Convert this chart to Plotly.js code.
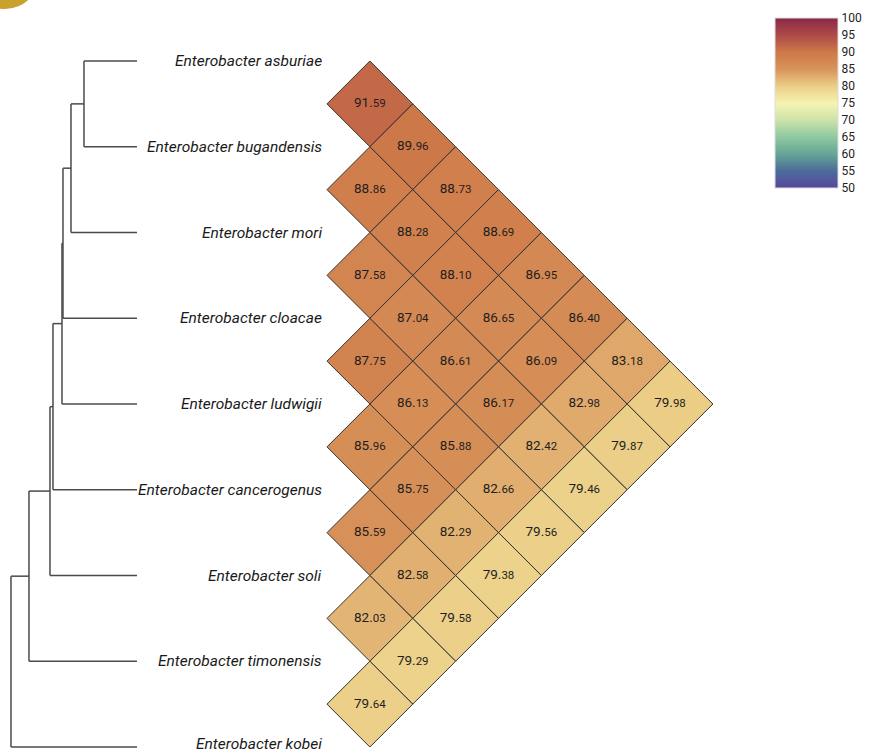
<!DOCTYPE html>
<html>
<head>
<meta charset="utf-8">
<script src="https://cdn.plot.ly/plotly-3.0.1.min.js"></script>
<style>
html,body{margin:0;padding:0;background:#fff;}
#chart{width:871px;height:754px;}
</style>
</head>
<body>
<div id="chart"></div>
<script>
// ---------- DATA ----------
const species = [
  "Enterobacter asburiae",
  "Enterobacter bugandensis",
  "Enterobacter mori",
  "Enterobacter cloacae",
  "Enterobacter ludwigii",
  "Enterobacter cancerogenus",
  "Enterobacter soli",
  "Enterobacter timonensis",
  "Enterobacter kobei"
];

// Upper-triangle ANI values: row i holds species i vs species i+1 ... 8
const aniRow0 = [91.59, 89.96, 88.73, 88.69, 86.95, 86.40, 83.18, 79.98];
const aniRow1 = [88.86, 88.28, 88.10, 86.65, 86.09, 82.98, 79.87];
const aniRow2 = [87.58, 87.04, 86.61, 86.17, 82.42, 79.46];
const aniRow3 = [87.75, 86.13, 85.88, 82.66, 79.56];
const aniRow4 = [85.96, 85.75, 82.29, 79.38];
const aniRow5 = [85.59, 82.58, 79.58];
const aniRow6 = [82.03, 79.29];
const aniRow7 = [79.64];
const aniRows = [aniRow0, aniRow1, aniRow2, aniRow3, aniRow4, aniRow5, aniRow6, aniRow7];

// Dendrogram merges: [child A, child B, height]; leaves 0..8, internal nodes 9..
const treeMerges = [
  [0, 1, 53],
  [9, 2, 66],
  [10, 3, 74],
  [11, 4, 75],
  [12, 5, 84],
  [13, 6, 87],
  [14, 7, 108],
  [15, 8, 126]
];

const colorTicks = [50, 55, 60, 65, 70, 75, 80, 85, 90, 95, 100];

// ---------- STYLE ----------
const colorscale = [
  [0.0, "#56479b"],
  [0.1, "#4c6c9a"],
  [0.2, "#66a596"],
  [0.3, "#8ec9a0"],
  [0.4, "#cde3aa"],
  [0.5, "#f6f3b2"],
  [0.6, "#ebcd86"],
  [0.7, "#d8935a"],
  [0.8, "#cd7848"],
  [0.9, "#ad4a48"],
  [1.0, "#8a2846"]
];
const cmin = 50, cmax = 100;
const PX = 85.75;            // pixels per axis unit
const leafX = -2.216;        // x where leaf branches end
const treeScale = 1 / PX;    // height units -> axis units
const lineColor = "#4a4a4a";
const fontFam = "Roboto, 'Liberation Sans', sans-serif";

function hexToRgb(h){return [parseInt(h.slice(1,3),16),parseInt(h.slice(3,5),16),parseInt(h.slice(5,7),16)];}
function colorFor(v){
  const t = Math.max(0, Math.min(1, (v - cmin) / (cmax - cmin)));
  for (let k = 0; k < colorscale.length - 1; k++){
    const [t0,c0] = colorscale[k], [t1,c1] = colorscale[k+1];
    if (t >= t0 && t <= t1){
      const f = (t - t0) / (t1 - t0);
      const a = hexToRgb(c0), b = hexToRgb(c1);
      const r = a.map((x,i)=>Math.round(x + (b[i]-x)*f));
      return `rgb(${r[0]},${r[1]},${r[2]})`;
    }
  }
  return colorscale[colorscale.length-1][1];
}

const traces = [];
const cx = [], cy = [], cv = [], ct = [];

// ---------- HEATMAP DIAMONDS ----------
aniRows.forEach((row, i) => {
  row.forEach((v, k) => {
    const j = i + 1 + k;
    const x = 0.5 + (j - i - 1) * 0.5;
    const y = (i + j) / 2;
    traces.push({
      type: "scatter", mode: "lines",
      x: [x - 0.5, x, x + 0.5, x, x - 0.5],
      y: [y, y - 0.5, y, y + 0.5, y],
      fill: "toself", fillcolor: colorFor(v),
      line: {color: "#333333", width: 1},
      hoverinfo: "skip", showlegend: false
    });
    cx.push(x); cy.push(y); cv.push(v);
    const s = v.toFixed(2).split(".");
    ct.push(s[0] + ".<span style='font-size:11.5px'>" + s[1] + "</span>");
  });
});

traces.push({
  type: "scatter", mode: "markers+text",
  x: cx, y: cy, text: ct,
  textfont: {family: fontFam, size: 13.5, color: "#1e1e1e"},
  textposition: "middle center",
  marker: {
    size: 2, opacity: 0, color: cv, colorscale: colorscale, cmin: cmin, cmax: cmax,
    showscale: true,
    colorbar: {
      x: 775/871, xanchor: "left", xref: "paper", xpad: 0,
      y: 1 - 18/754, yanchor: "top", ypad: 0,
      len: 170/754, lenmode: "fraction",
      thickness: 63, thicknessmode: "pixels",
      tickvals: colorTicks, ticktext: colorTicks.map(String),
      ticks: "", ticklen: 0,
      tickfont: {family: fontFam, size: 12, color: "#222"},
      outlinewidth: 1, outlinecolor: "#dddddd"
    }
  },
  hoverinfo: "skip", showlegend: false
});

// ---------- DENDROGRAM ----------
const nodeY = species.map((_, i) => i);
const nodeX = species.map(() => leafX);
const tx = [], ty = [];
treeMerges.forEach(([a, b, h]) => {
  const x = leafX - h * treeScale;
  const y = (nodeY[a] + nodeY[b]) / 2;
  tx.push(x, x, null); ty.push(nodeY[a], nodeY[b], null);
  tx.push(x, nodeX[a], null); ty.push(nodeY[a], nodeY[a], null);
  tx.push(x, nodeX[b], null); ty.push(nodeY[b], nodeY[b], null);
  nodeX.push(x); nodeY.push(y);
});
traces.push({
  type: "scatter", mode: "lines", x: tx, y: ty,
  line: {color: lineColor, width: 1.5}, hoverinfo: "skip", showlegend: false
});

// ---------- LABELS ----------
const annotations = species.map((s, i) => ({
  x: -0.03, y: i, xref: "x", yref: "y", text: "<i>" + s + "</i>",
  xanchor: "right", yanchor: "middle", showarrow: false,
  yshift: i === species.length - 1 ? 3 : 0,
  font: {family: fontFam, size: 15.5, color: "#1a1a1a"}
}));

const layout = {
  width: 871, height: 754,
  margin: {l: 0, r: 0, t: 0, b: 0},
  paper_bgcolor: "#ffffff", plot_bgcolor: "#ffffff",
  xaxis: {range: [-327/PX, (871-327)/PX], visible: false, fixedrange: true},
  yaxis: {range: [8 + 7/PX, -61/PX], visible: false, fixedrange: true},
  annotations: annotations,
  shapes: [{
    type: "circle", xref: "paper", yref: "paper",
    x0: -30/871, x1: 40/871, y0: 1 + 62/754, y1: 1 - 9/754,
    fillcolor: "#c9a12e", line: {width: 0}, layer: "above"
  }],
  showlegend: false
};

Plotly.newPlot("chart", traces, layout, {displayModeBar: false, staticPlot: true});
</script>
</body>
</html>
